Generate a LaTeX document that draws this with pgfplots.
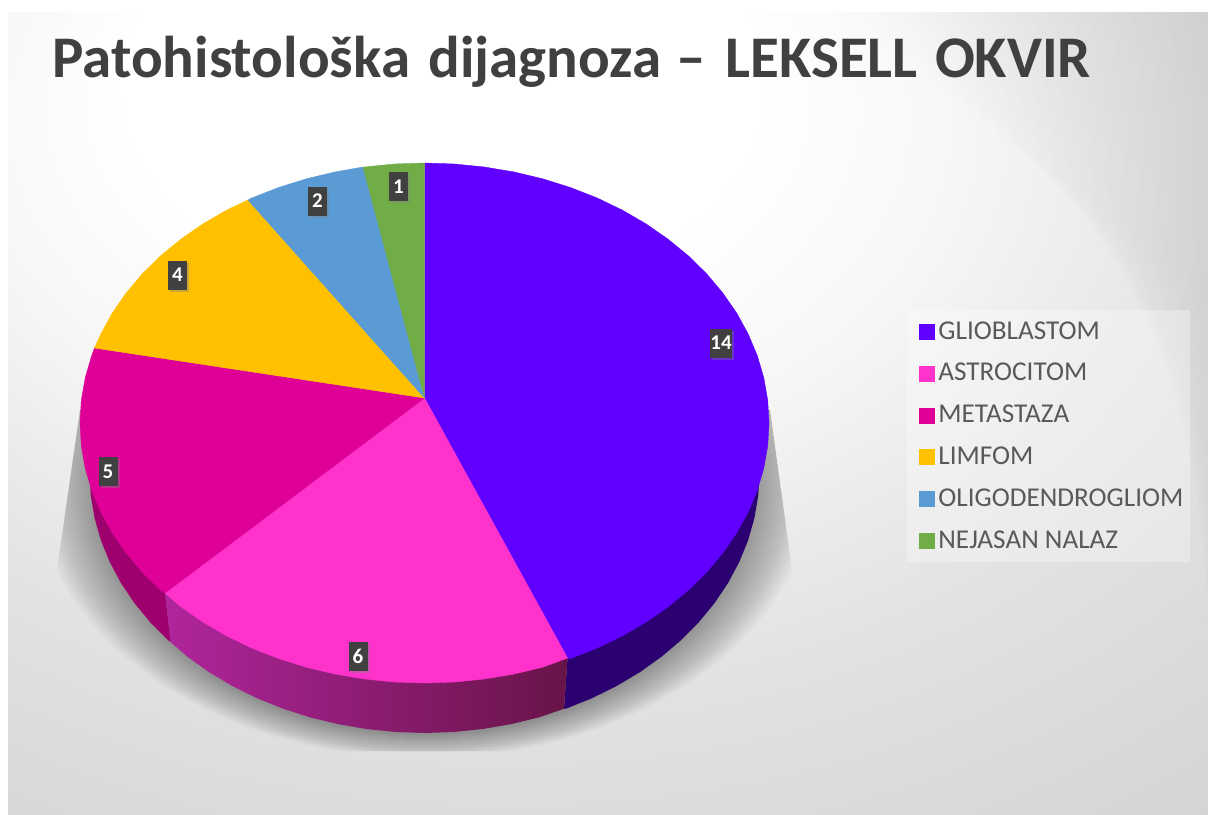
\documentclass[border=0pt]{standalone}
\usepackage{fontspec}
\setmainfont{Carlito}
\usepackage{pgfplots}
\pgfplotsset{compat=1.18}
\usetikzlibrary{shadows}

\definecolor{cGlio}{HTML}{6000FF}
\definecolor{cAstro}{HTML}{FF33CC}
\definecolor{cMeta}{HTML}{DF0097}
\definecolor{cLimf}{HTML}{FFC000}
\definecolor{cOligo}{HTML}{5B9BD5}
\definecolor{cNej}{HTML}{70AD47}
\definecolor{wGlio}{HTML}{2B0070}
\definecolor{wMeta}{HTML}{9E006E}
\definecolor{wAstroL}{HTML}{B0259C}
\definecolor{wAstroM}{HTML}{681448}
\definecolor{ink}{HTML}{404040}
\definecolor{legtext}{HTML}{595959}

\pgfdeclareradialshading{bgshade}{\pgfpoint{-8.5bp}{25bp}}{
  color(0bp)=(white);
  color(13bp)=(white);
  color(20bp)=(black!3);
  color(26bp)=(black!7.5);
  color(32bp)=(black!11.5);
  color(39bp)=(black!14.5);
  color(44bp)=(black!16.5);
  color(52bp)=(black!20.5);
  color(71bp)=(black!24)}

\begin{document}
\begin{tikzpicture}
\begin{axis}[
    scale only axis,
    width=604pt,
    height=407pt,
    xmin=0, xmax=1208,
    ymin=0, ymax=814,
    y dir=reverse,
    hide axis,
    /pgf/number format/assume math mode=true,
    legend cell align={left},
    legend style={
        at={(axis cs:907,310)}, anchor=north west,
        draw=none, fill=none,
        font=\fontsize{13.6}{14}\selectfont, text=legtext,
        row sep=6.6pt, inner xsep=6pt, inner ysep=3.5pt,
        /tikz/every even column/.append style={column sep=3pt}
    },
]

% page and background
\addplot[fill=white, draw=none, forget plot] coordinates {(0,0) (1208,0) (1208,814) (0,814)} --cycle;
\addplot[shading=bgshade, draw=none, forget plot] coordinates {(8,12) (1208,12) (1208,814) (8,814)} --cycle;
\pgfplotsinvokeforeach{850,870,...,1190}{
  \fill[black, opacity=0.005] (axis cs:#1,12) -- (axis cs:1208,12) -- (axis cs:1208,{#1-550}) -- cycle;
}

% soft shadow under the pie
\begin{scope}
\clip (axis cs:80,410) -- (axis cs:57,570) -- (axis cs:57,751) -- (axis cs:792,751) -- (axis cs:792,570) -- (axis cs:770,410) -- cycle;
\pgfplotsinvokeforeach{0,...,23}{
  \fill[black, opacity=0.016] (axis cs:424.5,473) ellipse [x radius=167.5pt+1.25pt*#1, y radius=131pt+0.5pt*#1];
}
\end{scope}

% side walls
\addplot[fill=wGlio, draw=none, forget plot] coordinates {
 (567.5,658) (564,708.8) (566.1,708.6) (592,698.2) (616.6,686) (639.8,672.2) (661.4,656.8)
 (681.1,640.1) (698.9,622.1) (714.6,603) (728.1,582.9) (739.3,561.9) (748.1,540.3)
 (754.4,518.1) (758.2,495.7) (759.5,473) (700,440)} --cycle;
\addplot[left color=wAstroL, middle color=wAstroM, right color=wAstroM, draw=none, forget plot] coordinates {
 (165,593) (170.5,642) (187.6,656.8) (209.2,672.2) (232.4,686) (257,698.2) (282.9,708.6)
 (309.9,717.3) (337.8,724.1) (366.3,729) (395.3,732) (424.5,733) (453.7,732) (482.7,729)
 (511.2,724.1) (539.1,717.3) (564,708.8) (567.5,658) (424,600)} --cycle;
\addplot[fill=wMeta, draw=none, forget plot] coordinates {
 (165,593) (170.5,642) (167.9,640.1) (150.1,622.1) (134.4,603) (120.9,582.9) (109.7,561.9)
 (100.9,540.3) (94.6,518.1) (90.8,495.7) (89.5,473) (120,440)} --cycle;

% top of the pie
\addplot[fill=cGlio, draw=cGlio, line width=0.2pt, forget plot] coordinates {
 (424.5,398) (424.5,163) (454.5,164) (484.3,167) (513.7,171.9) (542.3,178.7) (570.1,187.4)
 (596.8,197.8) (622.1,210) (645.9,223.8) (668.1,239.2) (688.4,255.9) (706.7,273.9)
 (722.8,293) (736.7,313.1) (748.2,334.1) (757.3,355.7) (763.8,377.9) (767.7,400.3)
 (769,423) (767.7,445.7) (763.8,468.1) (757.3,490.3) (748.2,511.9) (736.7,532.9)
 (722.8,553) (706.7,572.1) (688.4,590.1) (668.1,606.8) (645.9,622.2) (622.1,636)
 (596.8,648.2) (570.1,658.6) (567.5,658)} --cycle;
\addplot[fill=cAstro, draw=cAstro, line width=0.2pt, forget plot] coordinates {
 (424.5,398) (567.5,658) (542.3,667.3) (513.7,674.1) (484.3,679) (454.5,682) (424.5,683)
 (394.5,682) (364.7,679) (335.3,674.1) (306.7,667.3) (278.9,658.6) (252.2,648.2)
 (226.9,636) (203.1,622.2) (180.9,606.8) (165,593)} --cycle;
\addplot[fill=cMeta, draw=cMeta, line width=0.2pt, forget plot] coordinates {
 (424.5,398) (165,593) (160.6,590.1) (142.3,572.1) (126.2,553) (112.3,532.9) (100.8,511.9)
 (91.7,490.3) (85.2,468.1) (81.3,445.7) (80,423) (81.3,400.3) (85.2,377.9) (91.7,355.7)
 (94.5,348)} --cycle;
\addplot[fill=cLimf, draw=cLimf, line width=0.2pt, forget plot] coordinates {
 (424.5,398) (94.5,348) (100.8,334.1) (112.3,313.1) (126.2,293) (142.3,273.9) (160.6,255.9)
 (180.9,239.2) (203.1,223.8) (226.9,210) (248,200)} --cycle;
\addplot[fill=cOligo, draw=cOligo, line width=0.2pt, forget plot] coordinates {
 (424.5,398) (248,200) (252.2,197.8) (278.9,187.4) (306.7,178.7) (335.3,171.9) (363,167)} --cycle;
\addplot[fill=cNej, draw=cNej, line width=0.2pt, forget plot] coordinates {
 (424.5,398) (363,167) (364.7,167) (394.5,164) (424.5,163)} --cycle;

% value labels
\addplot[draw=none, mark=none, forget plot, nodes near coords, point meta=explicit,
    nodes near coords align={center},
    every node near coord/.append style={anchor=center, fill=ink, text=white,
        font=\fontsize{10.5}{10.5}\selectfont\bfseries, inner sep=0pt,
        minimum width=9.5pt, minimum height=14.5pt,
        drop shadow={shadow xshift=1pt, shadow yshift=-1pt, opacity=0.4}}]
  table [x=x, y=y, meta=v] {
x y v
721 343 14
358 656 6
108 471.5 5
177.5 275 4
317.5 201 2
398.5 186.5 1
};

% legend box
\addplot[fill=white, fill opacity=0.3, draw=none, forget plot] coordinates {(907,310) (1190,310) (1190,562) (907,562)} --cycle;

\node[anchor=base west, text=ink, inner sep=0pt, font=\fontsize{29.5}{30}\selectfont\bfseries]
    at (axis cs:52,77) {Patohistološka\hspace{2.5pt} dijagnoza\hspace{1pt} –\hspace{3pt} LEKSELL\hspace{2pt} OKVIR};

% legend
\addlegendimage{only marks, mark=square*, mark size=3.75pt, color=cGlio}
\addlegendentry{GLIOBLASTOM}
\addlegendimage{only marks, mark=square*, mark size=3.75pt, color=cAstro}
\addlegendentry{ASTROCITOM}
\addlegendimage{only marks, mark=square*, mark size=3.75pt, color=cMeta}
\addlegendentry{METASTAZA}
\addlegendimage{only marks, mark=square*, mark size=3.75pt, color=cLimf}
\addlegendentry{LIMFOM}
\addlegendimage{only marks, mark=square*, mark size=3.75pt, color=cOligo}
\addlegendentry{OLIGODENDROGLIOM}
\addlegendimage{only marks, mark=square*, mark size=3.75pt, color=cNej}
\addlegendentry{NEJASAN NALAZ}

\end{axis}
\end{tikzpicture}
\end{document}
